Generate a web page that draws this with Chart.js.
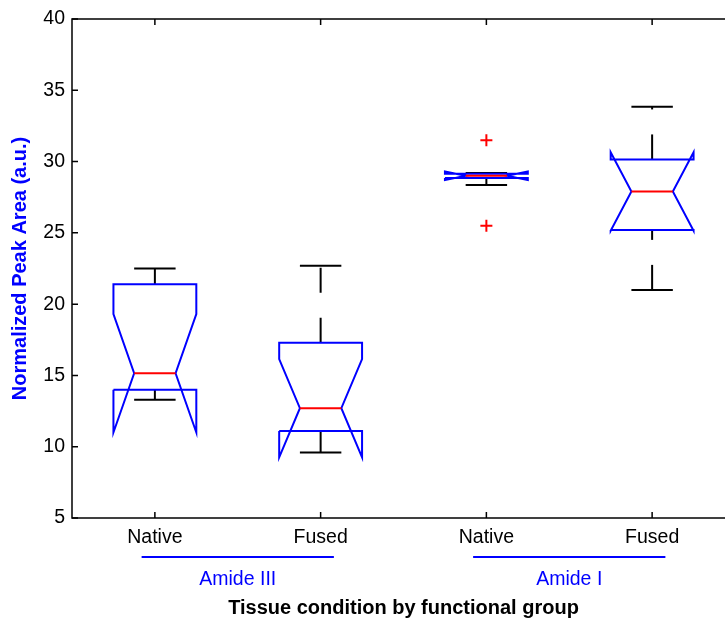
<!DOCTYPE html>
<html>
<head>
<meta charset="utf-8">
<title>Normalized peak area</title>
<script src="https://cdn.jsdelivr.net/npm/chart.js@4.4.1/dist/chart.umd.min.js"></script>
<style>
  html, body { margin: 0; padding: 0; overflow: hidden; background: #fff; }
  #wrap { width: 760px; height: 621px; }
</style>
</head>
<body>
<div id="wrap"><canvas id="boxChart"></canvas></div>
<script>
// box statistics, one entry per box (left to right)
var categories = ['Native', 'Fused', 'Native', 'Fused'];
var groups = ['Amide III', 'Amide I'];
var groupMembers = [[1, 2], [3, 4]];
var lowerAdjacent = [13.3, 9.6, 28.35, 21.0];
var quartile1 = [14.0, 11.1, 28.85, 25.2];
var medians = [15.15, 12.7, 29.0, 27.9];
var quartile3 = [21.4, 17.3, 29.15, 30.15];
var upperAdjacent = [22.5, 22.7, 29.2, 33.85];
var notchLow = [11.0, 9.25, 28.7, 25.15];
var notchHigh = [19.3, 16.15, 29.3, 30.65];
var outliers = [[], [], [31.5, 25.5], []];
var yTicks = [5, 10, 15, 20, 25, 30, 35, 40];

var BLUE = '#0000ff';
var RED = '#ff0000';
var FONT = '"Liberation Sans", Arial, Helvetica, sans-serif';
var boxHalf = 0.25;
var notchHalf = 0.125;
var capHalf = 0.125;

function lineSet(points, color, order, dash) {
  return {
    data: points,
    showLine: true,
    borderColor: color,
    borderWidth: 2,
    borderDash: dash || [],
    pointRadius: 0,
    fill: false,
    order: order
  };
}

var datasets = [];
categories.forEach(function (name, i) {
  var x = i + 1;
  var l = x - boxHalf, r = x + boxHalf;
  var nl = x - notchHalf, nr = x + notchHalf;
  // notched box outline
  datasets.push(lineSet([
    { x: l, y: quartile1[i] }, { x: l, y: notchLow[i] }, { x: nl, y: medians[i] },
    { x: l, y: notchHigh[i] }, { x: l, y: quartile3[i] }, { x: r, y: quartile3[i] },
    { x: r, y: notchHigh[i] }, { x: nr, y: medians[i] }, { x: r, y: notchLow[i] },
    { x: r, y: quartile1[i] }, { x: l, y: quartile1[i] }
  ], BLUE, 1));
  // median
  datasets.push(lineSet([{ x: nl, y: medians[i] }, { x: nr, y: medians[i] }], RED, 0));
  // whiskers (dashed) and caps
  datasets.push(lineSet([{ x: x, y: quartile3[i] }, { x: x, y: upperAdjacent[i] }], '#000', 2, [25, 25]));
  datasets.push(lineSet([{ x: x, y: lowerAdjacent[i] }, { x: x, y: quartile1[i] }], '#000', 2, [25, 25]));
  datasets.push(lineSet([{ x: x - capHalf, y: upperAdjacent[i] }, { x: x + capHalf, y: upperAdjacent[i] }], '#000', 2));
  datasets.push(lineSet([{ x: x - capHalf, y: lowerAdjacent[i] }, { x: x + capHalf, y: lowerAdjacent[i] }], '#000', 2));
  // outliers
  if (outliers[i].length) {
    datasets.push({
      data: outliers[i].map(function (v) { return { x: x, y: v }; }),
      showLine: false,
      pointStyle: 'cross',
      pointRadius: 6,
      pointBorderWidth: 2,
      pointBorderColor: RED,
      borderColor: RED,
      order: 0
    });
  }
});

// frame, inward ticks and the group brackets under the axis
var axesDecor = {
  id: 'axesDecor',
  afterDraw: function (chart) {
    var ctx = chart.ctx;
    var a = chart.chartArea;
    var xs = chart.scales.x, ys = chart.scales.y;
    ctx.save();
    ctx.strokeStyle = '#000';
    ctx.lineWidth = 1.5;
    ctx.strokeRect(a.left, a.top, a.right - a.left, a.bottom - a.top);
    ctx.beginPath();
    yTicks.forEach(function (v) {
      var py = ys.getPixelForValue(v);
      ctx.moveTo(a.left, py); ctx.lineTo(a.left + 6, py);
      ctx.moveTo(a.right, py); ctx.lineTo(a.right - 6, py);
    });
    categories.forEach(function (c, i) {
      var px = xs.getPixelForValue(i + 1);
      ctx.moveTo(px, a.bottom); ctx.lineTo(px, a.bottom - 6);
      ctx.moveTo(px, a.top); ctx.lineTo(px, a.top + 6);
    });
    ctx.stroke();

    ctx.strokeStyle = BLUE;
    ctx.fillStyle = BLUE;
    ctx.lineWidth = 2;
    ctx.font = '19.5px ' + FONT;
    ctx.textAlign = 'center';
    ctx.textBaseline = 'middle';
    groups.forEach(function (g, k) {
      var m = groupMembers[k];
      var x0 = xs.getPixelForValue(m[0] - 0.08);
      var x1 = xs.getPixelForValue(m[m.length - 1] + 0.08);
      ctx.beginPath();
      ctx.moveTo(x0, a.bottom + 39);
      ctx.lineTo(x1, a.bottom + 39);
      ctx.stroke();
      ctx.fillText(g, (x0 + x1) / 2, a.bottom + 62);
    });
    ctx.restore();
  }
};

new Chart(document.getElementById('boxChart'), {
  type: 'scatter',
  data: { datasets: datasets },
  plugins: [axesDecor],
  options: {
    responsive: true,
    maintainAspectRatio: false,
    animation: false,
    events: [],
    layout: { padding: { top: 19, right: 25, left: 0, bottom: 0 } },
    plugins: { legend: { display: false }, tooltip: { enabled: false } },
    scales: {
      x: {
        type: 'linear',
        min: 0.5,
        max: 4.5,
        grid: { display: false, drawTicks: false },
        border: { display: false },
        afterBuildTicks: function (scale) {
          scale.ticks = categories.map(function (c, i) { return { value: i + 1 }; });
        },
        afterFit: function (scale) { scale.height = 103; },
        ticks: {
          autoSkip: false,
          maxRotation: 0,
          padding: 8,
          color: '#000',
          font: { family: FONT, size: 19.5 },
          callback: function (v) { return categories[v - 1]; }
        },
        title: {
          display: true,
          text: 'Tissue condition by functional group',
          color: '#000',
          font: { family: FONT, size: 20, weight: 'bold' },
          padding: { top: 0, bottom: 1 }
        }
      },
      y: {
        min: 5,
        max: 40,
        grid: { display: false, drawTicks: false },
        border: { display: false },
        afterBuildTicks: function (scale) {
          scale.ticks = yTicks.map(function (v) { return { value: v }; });
        },
        afterFit: function (scale) { scale.width = 72; },
        ticks: {
          padding: 7,
          color: '#000',
          font: { family: FONT, size: 19.5 }
        },
        title: {
          display: true,
          text: 'Normalized Peak Area (a.u.)',
          color: BLUE,
          font: { family: FONT, size: 20, weight: 'bold' },
          padding: { top: 8, bottom: 0 }
        }
      }
    }
  }
});
</script>
</body>
</html>
